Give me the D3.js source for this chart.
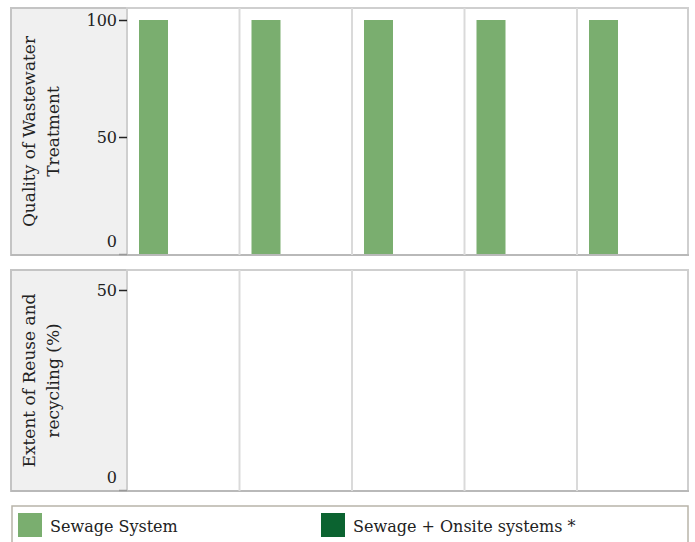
<!DOCTYPE html>
<html><head><meta charset="utf-8">
<script src="https://cdn.jsdelivr.net/npm/d3@7"></script>
<style>
body{margin:0;background:#fff;}
svg{display:block;font-family:"DejaVu Serif",serif;}
</style></head>
<body><svg id="c" width="695" height="542"></svg>
<script>
const categories = ["A","B","C","D","E"];
const seriesNames = ["Sewage System","Sewage + Onsite systems *"];
const qualitySewage = [100,100,100,100,100];
const qualityOnsite = [0,0,0,0,0];
const reuseSewage = [0,0,0,0,0];
const reuseOnsite = [0,0,0,0,0];
const qualityTicks = [0,50,100];
const reuseTicks = [0,50];
const colors = ["#7aae6f","#0b6330"];

const svg = d3.select("#c");
const plotX0 = 127, plotX1 = 689.5, frameX1 = 688;
const x = d3.scaleBand().domain(categories).range([plotX0, plotX1]).padding(0);
const xi = d3.scaleBand().domain(seriesNames).range([12, 70]).padding(0);

const panels = [
  {title:["Quality of Wastewater","Treatment"], top:8, bottom:255, y:d3.scaleLinear().domain([0,100]).range([254,20]), ticks:qualityTicks, data:[qualitySewage,qualityOnsite]},
  {title:["Extent of Reuse and","recycling (%)"], top:270, bottom:491, y:d3.scaleLinear().domain([0,50]).range([490,290]), ticks:reuseTicks, data:[reuseSewage,reuseOnsite]}
];

panels.forEach(p=>{
  const g = svg.append("g");
  g.append("rect").attr("x",11).attr("y",p.top).attr("width",plotX0-11).attr("height",p.bottom-p.top)
    .attr("fill","#f0f0f0").attr("stroke","#c4c4c4").attr("stroke-width",2);
  g.append("rect").attr("x",plotX0).attr("y",p.top).attr("width",frameX1-plotX0).attr("height",p.bottom-p.top)
    .attr("fill","#fff").attr("stroke","#cfcfcf").attr("stroke-width",2);
  g.append("line").attr("x1",11).attr("x2",frameX1+1).attr("y1",p.bottom).attr("y2",p.bottom)
    .attr("stroke","#b9b9b9").attr("stroke-width",2);
  g.selectAll(".div").data(categories.slice(1)).join("line")
    .attr("x1",d=>x(d)).attr("x2",d=>x(d)).attr("y1",p.top).attr("y2",p.bottom)
    .attr("stroke","#dadada").attr("stroke-width",2);
  p.data.forEach((vals,si)=>{
    g.selectAll(".b"+si).data(categories).join("rect")
      .attr("x",(d)=>x(d)+xi(seriesNames[si]))
      .attr("width",xi.bandwidth())
      .attr("y",(d,i)=>p.y(vals[i]))
      .attr("height",(d,i)=>p.y(0)-p.y(vals[i]))
      .attr("fill",colors[si]);
  });
  const ax = g.append("g").attr("transform",`translate(${plotX0},0)`)
    .call(d3.axisLeft(p.y).tickValues(p.ticks).tickSize(8).tickPadding(2));
  ax.select(".domain").remove();
  ax.selectAll(".tick line").attr("stroke","#222").attr("stroke-width",1.5);
  ax.selectAll(".tick text").attr("font-family","DejaVu Serif").attr("font-size",16).attr("fill","#222")
    .attr("dy",d=>d===0?"-0.45em":"0.32em");
  ax.selectAll(".tick line").filter(d=>d===0).attr("stroke","#999");
  const cy = (p.top+p.bottom)/2;
  const t = g.append("text").attr("transform",`translate(41,${cy}) rotate(-90)`)
    .attr("text-anchor","middle").attr("font-size",17).attr("fill","#222");
  p.title.forEach((line,i)=>t.append("tspan").attr("x",0).attr("y",(i-0.5)*24+6).text(line));
});

const lg = svg.append("g");
lg.append("rect").attr("x",12).attr("y",506).attr("width",676).attr("height",60)
  .attr("fill","#fff").attr("stroke","#b8b4a9").attr("stroke-width",1.5);
const lx = d3.scalePoint().domain(seriesNames).range([18,321]);
seriesNames.forEach((s,i)=>{
  lg.append("rect").attr("x",lx(s)).attr("y",513).attr("width",24).attr("height",24).attr("fill",colors[i]);
  lg.append("text").attr("x",lx(s)+32).attr("y",532).attr("font-size",16).attr("fill","#222").text(s);
});
</script></body></html>
